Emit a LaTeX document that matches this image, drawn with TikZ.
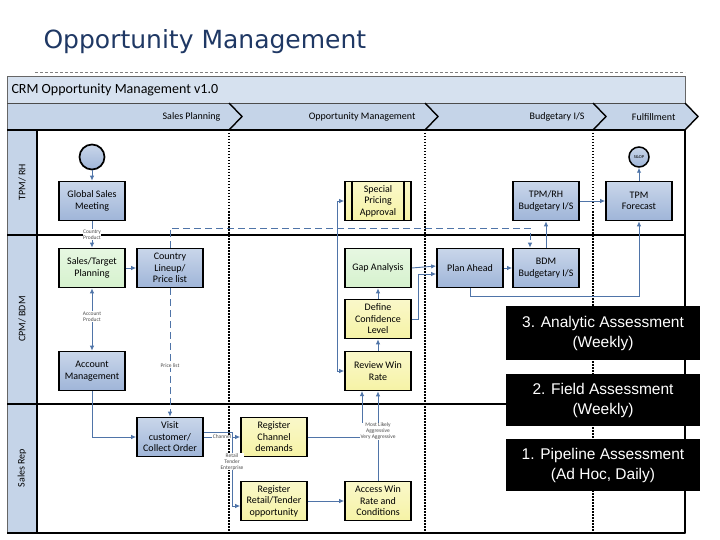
\documentclass[tikz,border=0pt]{standalone}
\usepackage{fontspec}
\setmainfont{Carlito}
\newfontfamily\arl{Liberation Sans}
\newfontfamily\ttlf{DejaVu Sans}
\usetikzlibrary{arrows.meta,calc}
\definecolor{boxA}{HTML}{C9D6EA}
\definecolor{boxB}{HTML}{9FB5D8}
\definecolor{grn}{HTML}{D6F2CE}
\definecolor{ylw}{HTML}{F6F3A6}
\definecolor{arr}{HTML}{4F74A8}
\definecolor{band}{HTML}{C5D4E8}
\definecolor{ttl}{HTML}{1F3864}
\tikzset{
 box/.style={draw=black,line width=1.7pt,minimum width=66pt,minimum height=39pt,align=center,font=\fontsize{10}{11.5}\selectfont,top color=boxA,bottom color=boxB,inner sep=1pt},
 gbox/.style={box,top color=grn!60,bottom color=grn},
 ybox/.style={box,top color=ylw!60,bottom color=ylw},
 con/.style={draw=arr,line width=0.9pt,-{Latex[length=5pt,width=4.5pt]}},
 dcon/.style={con,dash pattern=on 7pt off 4pt},
 lbl/.style={font=\fontsize{5.5}{6}\selectfont,fill=white,inner sep=0.5pt,align=center,text=black!70},
 callout/.style={fill=black,text=white,font=\arl\fontsize{15.5}{20}\selectfont,align=center},
 lane/.style={font=\fontsize{10}{11}\selectfont,rotate=90},
 phase/.style={font=\fontsize{10}{11}\selectfont,anchor=east},
 dotl/.style={black,line width=1.4pt,dash pattern=on 1.5pt off 1.5pt}
}
\begin{document}
\begin{tikzpicture}[x=1pt,y=-1pt]
\useasboundingbox (0,0) rectangle (720,540);
\node[anchor=west,font=\ttlf\fontsize{25}{28}\selectfont,text=ttl] (title) at (40,42) {Opportunity Management};
\draw[gray,dash pattern=on 3pt off 2pt] (35,72) -- (685,72);
% frame
\fill[band!70] (7,76) rectangle (685,103);
\node[anchor=west,font=\fontsize{14}{16}\selectfont] (crm) at (8,90) {CRM Opportunity Management v1.0};
\fill[band] (7,103) rectangle (685,130);
\fill[band] (7,130) rectangle (37,533);
\draw[black!60,line width=0.6pt] (7,76) rectangle (685,533);
\draw[black!70,line width=0.8pt] (7,103) -- (685,103);
\draw[black,line width=1.6pt] (7,130) -- (685,130);
\foreach \xx in {229,425,593,685}{
 \fill[band] (\xx,103) -- (\xx+13,116.5) -- (\xx,130) -- cycle;
 \draw[black,line width=1.4pt] (\xx,103) -- (\xx+13,116.5) -- (\xx,130);}
\node[phase] (p1) at (224,117) {Sales Planning};
\node[phase] (p2) at (419,117) {Opportunity Management};
\node[phase] (p3) at (588,117) {Budgetary I/S};
\node[phase] (p4) at (679,117) {Fulfillment};
\draw[black,line width=1.6pt] (37,130) -- (37,533);
\draw[black,line width=1.6pt] (7,235) -- (685,235);
\draw[black,line width=1.6pt] (7,404) -- (685,404);
\draw[black,line width=1.6pt] (7,533) -- (685,533);
\draw[black,line width=1.6pt] (685,130) -- (685,533);
\foreach \xx in {229,425,593}{\draw[dotl] (\xx,130) -- (\xx,533);}
\node[lane] (l1) at (22,182) {TPM/ RH};
\node[lane] (l2) at (22,319) {CPM/ BDM};
\node[lane] (l3) at (22,468) {Sales Rep};
% nodes
\node[circle,draw=black,line width=1.7pt,minimum size=25pt,top color=boxA,bottom color=boxB] (start) at (92,157) {};
\node[box] (gsm) at (92,201) {Global Sales\\Meeting};
\node[gbox] (stp) at (92,268) {Sales/Target\\Planning};
\node[box] (cl) at (170,268) {Country\\Lineup/\\Price list};
\node[box] (am) at (92,371) {Account\\Management};
\node[box] (vc) at (170,437) {Visit\\customer/\\Collect Order};
\node[ybox] (rcd) at (274,437) {Register\\Channel\\demands};
\node[ybox] (rrt) at (274,501) {Register\\Retail/Tender\\opportunity};
\node[ybox] (awr) at (378,501) {Access Win\\Rate and\\Conditions};
\node[ybox] (rwr) at (378,371) {Review Win\\Rate};
\node[ybox] (dcl) at (378,319) {Define\\Confidence\\Level};
\node[gbox] (ga) at (378,268) {Gap Analysis};
\node[ybox] (spa) at (378,201) {Special\\Pricing\\Approval};
\draw[black,line width=1.5pt] ($(spa.north west)+(8,0)$) -- ($(spa.south west)+(8,0)$);
\draw[black,line width=1.5pt] ($(spa.north east)+(-8,0)$) -- ($(spa.south east)+(-8,0)$);
\node[box] (pa) at (470,268) {Plan Ahead};
\node[box] (bdm) at (546,268) {BDM\\Budgetary I/S};
\node[box] (tpmrh) at (546,201) {TPM/RH\\Budgetary I/S};
\node[box] (tpmf) at (639,201) {TPM\\Forecast};
\node[circle,draw=black,line width=1.5pt,minimum size=20pt,top color=boxA,bottom color=boxB,font=\fontsize{4.5}{5}\selectfont,inner sep=0pt] (sop) at (639,157) {S\&OP};
% connectors
\draw[con] (start) -- (gsm);
\draw[con] (gsm) -- node[lbl]{Country\\Product} (stp);
\draw[con] (stp) -- (cl);
\draw[con,{Latex[length=5pt,width=4.5pt]}-{Latex[length=5pt,width=4.5pt]}] (stp) -- node[lbl,pos=0.45]{Account\\Product} (am);
\draw[con] (am.south) |- (vc.west);
\draw[dcon] (cl) -- node[lbl,pos=0.6]{Price list} (vc);
\draw[dcon] (cl.north) |- (530,228) -- (bdm.north -| 530,0);
\draw[con] (vc.east |- rcd) -- node[lbl]{Channel} (rcd);
\draw[con] ($(vc.east)+(0,-5)$) -| (232,506) node[lbl,pos=0.7,text=black!70]{Retail\\Tender\\Enterprise} -- (rrt.west |- 0,506);
\draw[con] (rcd.east) -| (362,391);
\draw[con] (awr) -- node[lbl,pos=0.55]{Most Likely\\Aggressive\\Very Aggressive} (rwr);
\draw[con] (rrt) -- (awr);
\draw[con] (rwr) -- (dcl);
\draw[con] (dcl) -- (ga);
\draw[con,{Latex[length=5pt,width=4.5pt]}-{Latex[length=5pt,width=4.5pt]}] (spa.west) -| (337,371) -- (rwr.west);
\draw[con] (ga.east) -- (pa.west |- 0,266);
\draw[con] (dcl.east) -| (418,274) -- (pa.west |- 0,274);
\draw[con] (pa) -- (bdm);
\draw[con] (bdm) -- (tpmrh);
\draw[con] (tpmrh) -- (tpmf);
\draw[con] (pa.south) |- (639,296) -- (tpmf.south);
\draw[con] (tpmf) -- (sop);
% callouts
\node[callout,minimum width=194pt,minimum height=54pt] (c3) at (603,333) {3. Analytic Assessment\\(Weekly)};
\node[callout,minimum width=194pt,minimum height=52pt] (c2) at (603,400) {2. Field Assessment\\(Weekly)};
\node[callout,minimum width=194pt,minimum height=52pt] (c1) at (603,465) {1. Pipeline Assessment\\(Ad Hoc, Daily)};
\end{tikzpicture}
\end{document}
